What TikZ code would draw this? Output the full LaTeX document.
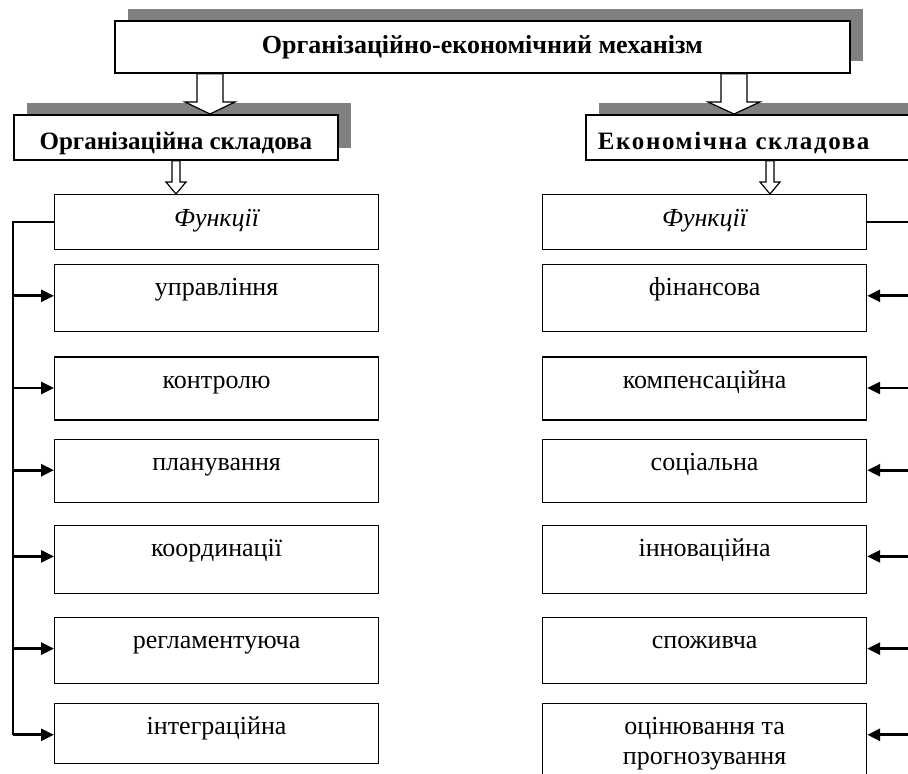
\documentclass[tikz,border=0pt]{standalone}
\usepackage{fontspec}
\setmainfont{Liberation Serif}
\usepackage{tikz}
\usetikzlibrary{arrows.meta,positioning,shadows,calc}
\definecolor{shadowgray}{RGB}{128,128,128}

% hollow block arrow: from, to, half shaft, half head
\newcommand{\openarrow}[4]{%
  \draw[open arrow] let \p1=(#1), \p2=(#2) in
    (\x1-#3,\y1) -- (\x1-#3,\y2+12pt) -- (\x1-#4,\y2+12pt) -- (\x2,\y2)
    -- (\x1+#4,\y2+12pt) -- (\x1+#3,\y2+12pt) -- (\x1+#3,\y1) -- cycle;}

\begin{document}
\begin{tikzpicture}[x=1pt,y=-1pt,font=\fontsize{26}{30}\selectfont,
  func node/.style={draw,line width=1.2pt,minimum width=324pt,
    inner ysep=0pt,text height=31pt,text depth=#1},
  func node/.default=32pt,
  head node/.style={draw,line width=1.8pt,fill=white,inner ysep=0pt,
    font=\fontsize{25}{28}\selectfont\bfseries,
    general shadow={fill=shadowgray,shadow xshift=13pt,shadow yshift=12pt}},
  open arrow/.style={draw,fill=white,line width=1.2pt},
  rail/.style={line width=1.5pt},
  feed/.style={line width=2.8pt,-{Triangle[length=13pt,width=12pt]}}]

  \useasboundingbox (0,0) rectangle (908,774);

  % headers
  \node[head node,minimum width=735pt,text height=33pt,text depth=19pt,
    font=\fontsize{26}{28}\selectfont\bfseries,
    anchor=north west] (mech) at (114,20) {Організаційно-економічний механізм};
  \node[head node,minimum width=324pt,text height=35pt,text depth=10pt,
    anchor=north west] (orghead) at (13,114) {Організаційна складова};
  \node[head node,text width=321pt,align=left,inner xsep=12pt,
    text height=35pt,text depth=10pt,
    anchor=north west] (ecohead) at (585,114)
    {\addfontfeature{LetterSpace=6.5}Економічна складова};

  % organisational functions
  \node[func node=23pt,text height=32pt,font=\fontsize{26}{30}\selectfont\itshape,
    anchor=north west] (o0) at (54,194) {Функції};
  \node[func node=36pt] (o1) [below=14pt of o0] {управління};
  \node[func node=32pt] (o2) [below=24pt of o1] {контролю};
  \node[func node=32pt] (o3) [below=18pt of o2] {планування};
  \node[func node=37pt] (o4) [below=22pt of o3] {координації};
  \node[func node=35pt] (o5) [below=23pt of o4] {регламентуюча};
  \node[func node=29pt] (o6) [below=19pt of o5] {інтеграційна};

  % economic functions
  \node[func node=23pt,text height=32pt,font=\fontsize{26}{30}\selectfont\itshape,
    anchor=north west] (e0) at (542,194) {Функції};
  \node[func node=36pt] (e1) [below=14pt of e0] {фінансова};
  \node[func node=32pt] (e2) [below=24pt of e1] {компенсаційна};
  \node[func node=32pt] (e3) [below=18pt of e2] {соціальна};
  \node[func node=37pt] (e4) [below=22pt of e3] {інноваційна};
  \node[func node=35pt] (e5) [below=23pt of e4] {споживча};
  \node[func node=64pt] (e6) [below=19pt of e5]
    {\begin{tabular}[t]{@{}c@{}}оцінювання та\\прогнозування\end{tabular}};

  % block arrows
  \openarrow{210,0 |- mech.south}{210,0 |- orghead.north}{13pt}{25pt}
  \openarrow{734,0 |- mech.south}{734,0 |- ecohead.north}{13pt}{26pt}
  \openarrow{176,0 |- orghead.south}{176,0 |- o0.north}{4pt}{10pt}
  \openarrow{770,0 |- ecohead.south}{770,0 |- e0.north}{4pt}{10pt}

  % rails
  \coordinate (lrail) at (13,0);
  \coordinate (rrail) at (918,0);
  \draw[rail] (o0.west) -- (lrail |- o0.west) -- (lrail |- o6.base west);
  \draw[rail] (e0.east) -- (rrail |- e0.east) -- (rrail |- e6.base east);
  \foreach \n in {1,...,6}{
    \draw[feed] (lrail |- o\n.base west) -- (o\n.base west);
    \draw[feed] (rrail |- e\n.base east) -- (e\n.base east);
  }
\end{tikzpicture}
\end{document}
